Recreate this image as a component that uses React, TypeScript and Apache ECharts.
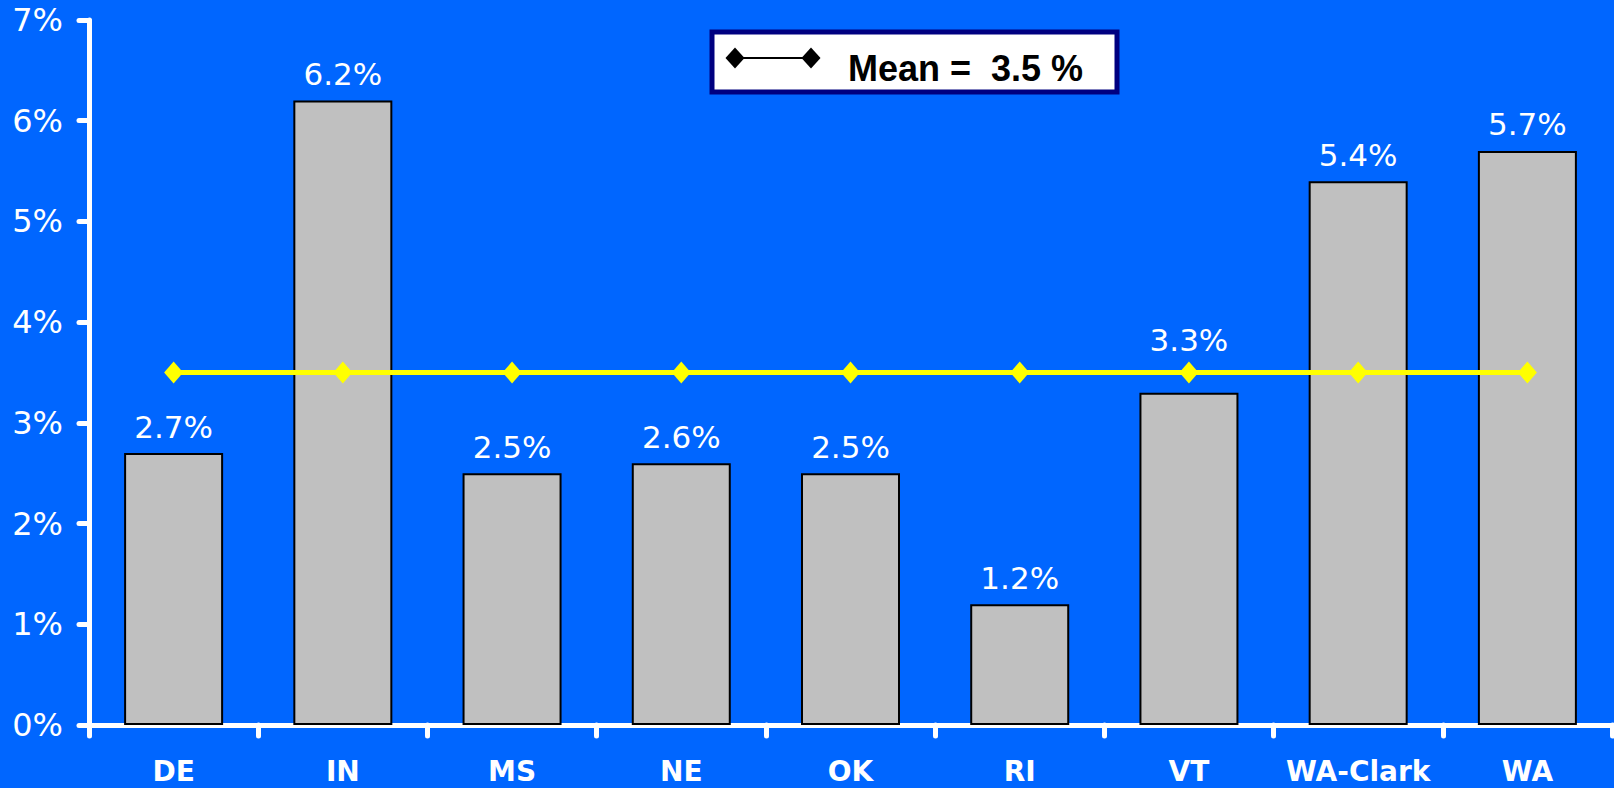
import React, { useEffect, useRef } from "react";
import * as echarts from "echarts";

const categories = ["DE", "IN", "MS", "NE", "OK", "RI", "VT", "WA-Clark", "WA"];
const rates = [2.7, 6.2, 2.5, 2.6, 2.5, 1.2, 3.3, 5.4, 5.7];
const meanValue = 3.5;
const meanLine = [3.5, 3.5, 3.5, 3.5, 3.5, 3.5, 3.5, 3.5, 3.5];
const yTicks = [0, 1, 2, 3, 4, 5, 6, 7];
const legendLabel = "Mean =  " + meanValue.toFixed(1) + " %";

export default function App() {
  const ref = useRef<HTMLDivElement>(null);
  useEffect(() => {
    document.body.style.margin = "0";
    const chart = echarts.init(ref.current!, null, { renderer: "svg" });
    const diamond = (cx: number, cy: number, rx: number, ry: number) => [
      [cx - rx, cy],
      [cx, cy - ry],
      [cx + rx, cy],
      [cx, cy + ry],
    ];
    // labels that would collide with the mean line are lifted above it
    const barData = rates.map((v) =>
      v < meanValue && v > meanValue - 0.5
        ? { value: v, label: { distance: 37 } }
        : { value: v }
    );
    chart.setOption({
      animation: false,
      backgroundColor: "#0066FF",
      grid: { left: 89, right: 2, top: 20, bottom: 63 },
      xAxis: {
        type: "category",
        data: categories,
        boundaryGap: true,
        axisLine: { lineStyle: { color: "#FFFFFF", width: 5 } },
        axisTick: {
          show: true,
          alignWithLabel: false,
          length: 11,
          lineStyle: { color: "#FFFFFF", width: 5, cap: "round" },
        },
        axisLabel: {
          color: "#FFFFFF",
          fontFamily: "DejaVu Sans",
          fontWeight: "bold",
          fontSize: 28,
          margin: 32,
          interval: 0,
        },
      },
      yAxis: {
        type: "value",
        min: yTicks[0],
        max: yTicks[yTicks.length - 1],
        interval: 1,
        axisLine: { show: true, lineStyle: { color: "#FFFFFF", width: 5 } },
        axisTick: {
          show: true,
          length: 10,
          lineStyle: { color: "#FFFFFF", width: 5, cap: "round" },
        },
        splitLine: { show: false },
        axisLabel: {
          color: "#FFFFFF",
          fontFamily: "DejaVu Sans",
          fontSize: 32,
          margin: 26,
          formatter: (v: number) => v + "%",
        },
      },
      series: [
        {
          type: "bar",
          data: barData,
          barWidth: 99,
          itemStyle: { color: "#C0C0C0", borderColor: "#000000", borderWidth: 2 },
          label: {
            show: true,
            position: "top",
            distance: 11,
            color: "#FFFFFF",
            fontFamily: "DejaVu Sans",
            fontSize: 31,
            formatter: (p: any) => Number(p.value).toFixed(1) + "%",
          },
          z: 2,
        },
        {
          type: "line",
          data: meanLine,
          symbol: "diamond",
          symbolSize: [19, 22],
          lineStyle: { color: "#FFFF00", width: 5 },
          itemStyle: { color: "#FFFF00" },
          z: 3,
        },
      ],
      graphic: [
        {
          type: "rect",
          shape: { x: 712, y: 32, width: 405, height: 60 },
          style: { fill: "#FFFFFF", stroke: "#000080", lineWidth: 5 },
          z: 10,
        },
        {
          type: "line",
          shape: { x1: 735, y1: 58, x2: 811, y2: 58 },
          style: { stroke: "#000000", lineWidth: 2 },
          z: 11,
        },
        {
          type: "polygon",
          shape: { points: diamond(735, 58, 9.5, 10.5) },
          style: { fill: "#000000" },
          z: 12,
        },
        {
          type: "polygon",
          shape: { points: diamond(811, 58, 9.5, 10.5) },
          style: { fill: "#000000" },
          z: 12,
        },
        {
          type: "text",
          x: 848,
          y: 68,
          style: {
            text: legendLabel,
            fill: "#000000",
            font: "bold 36px 'Liberation Sans', Arial, sans-serif",
            verticalAlign: "middle",
            align: "left",
          },
          z: 12,
        },
      ],
    });
    return () => chart.dispose();
  }, []);
  return <div ref={ref} style={{ width: 1614, height: 788 }} />;
}
